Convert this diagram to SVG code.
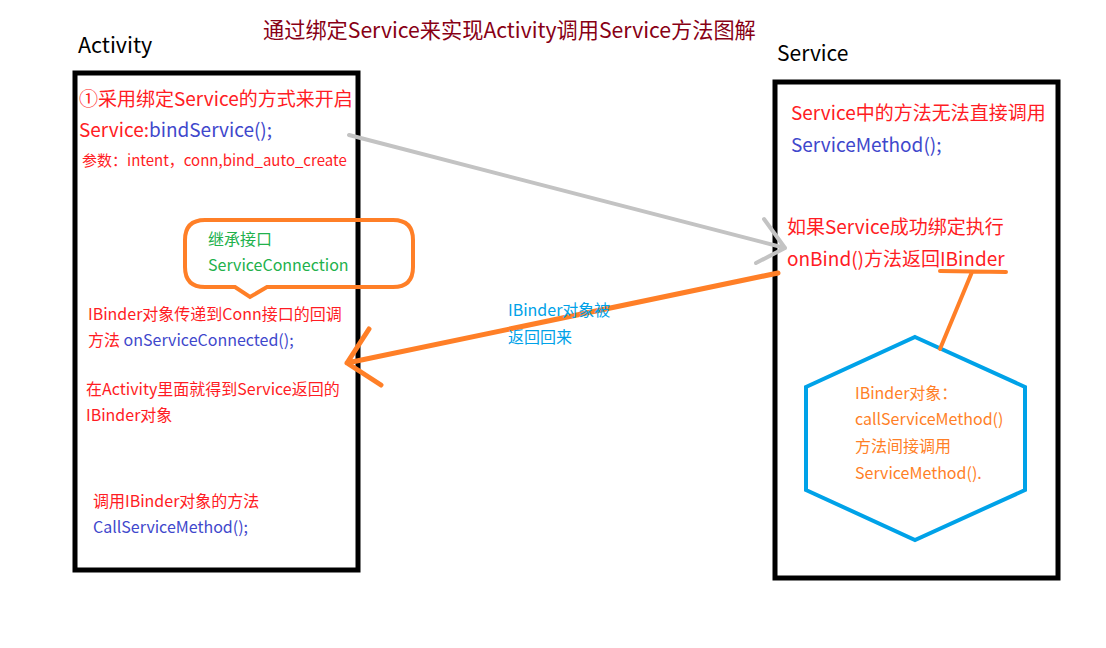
<svg xmlns="http://www.w3.org/2000/svg" width="1106" height="648" viewBox="0 0 1106 648">
<style>
text{font-family:"Noto Sans CJK SC","Noto Sans",sans-serif;}
.box{fill:none;stroke:#000;stroke-width:5}
.r{fill:#ff1c24}
.b{fill:#3f48cc}
.g{fill:#22b14c}
.o{fill:#ff7f27}
.lb{fill:#00a2e8}
.f18{font-size:19px}
.f15{font-size:16px}
.f14{font-size:15px}
</style>
<rect width="1106" height="648" fill="#fff"/>
<text x="263" y="38" font-size="21.2" fill="#880015">通过绑定Service来实现Activity调用Service方法图解</text>

<g id="activity">
<rect class="box" x="75" y="73" width="283" height="497"/>
<text x="78" y="53" font-size="21.5" fill="#000">Activity</text>
<text x="79" y="106" class="f18 r">①采用绑定Service的方式来开启</text>
<text x="79" y="137" class="f18"><tspan class="r">Service:</tspan><tspan class="b">bindService();</tspan></text>
<text x="82" y="166" class="f14 r">参数：intent，conn,bind_auto_create</text>
<text x="88" y="320" class="f15 r">IBinder对象传递到Conn接口的回调</text>
<text x="88" y="346" class="f15"><tspan class="r">方法 </tspan><tspan class="b">onServiceConnected();</tspan></text>
<text x="86" y="395" class="f15 r">在Activity里面就得到Service返回的</text>
<text x="86" y="421" class="f15 r">IBinder对象</text>
<text x="93" y="507" class="f15 r">调用IBinder对象的方法</text>
<text x="93" y="533" class="f15 b">CallServiceMethod();</text>
</g>

<g id="callout">
<path d="M205,220 H393 Q413,220 413,240 V267 Q413,287 393,287 H267 L250,297 L235,287 H205 Q185,287 185,267 V240 Q185,220 205,220 Z" fill="none" stroke="#ff7f27" stroke-width="4"/>
<text x="208" y="245" class="f15 g">继承接口</text>
<text x="208" y="271" class="f15 g">ServiceConnection</text>
</g>

<g id="service">
<rect class="box" x="775" y="82" width="283" height="496"/>
<text x="777" y="61" font-size="21" fill="#000">Service</text>
<text x="791" y="120" class="f18 r">Service中的方法无法直接调用</text>
<text x="791" y="152" class="f18 b">ServiceMethod();</text>
<text x="787" y="234" class="f18 r">如果Service成功绑定执行</text>
<text x="787" y="266" class="f18 r">onBind()方法返回IBinder</text>
</g>

<g id="ibinder">
<polygon points="915,337 1025,387 1025,490 915,540 806,490 806,387" fill="none" stroke="#00a2e8" stroke-width="4"/>
<text x="855" y="399" class="f15 o">IBinder对象：</text>
<text x="855" y="425" class="f15 o">callServiceMethod()</text>
<text x="855" y="452" class="f15 o">方法间接调用</text>
<text x="855" y="479" class="f15 o">ServiceMethod().</text>
</g>

<g id="connectors" fill="none" stroke-linecap="round" stroke-linejoin="round">
<path d="M349,135 L785,248 M764,219 L785,248 L756,263" stroke="#c3c3c3" stroke-width="4"/>
<path d="M778,273 L347,363 M369,329 L347,363 L381,385" stroke="#ff7f27" stroke-width="5"/>
<path d="M940,271 L1006,272 M972,272 L940,349" stroke="#ff7f27" stroke-width="4"/>
<text x="508" y="316" class="f15 lb" stroke="none">IBinder对象被</text>
<text x="508" y="343" class="f15 lb" stroke="none">返回回来</text>
</g>
</svg>
